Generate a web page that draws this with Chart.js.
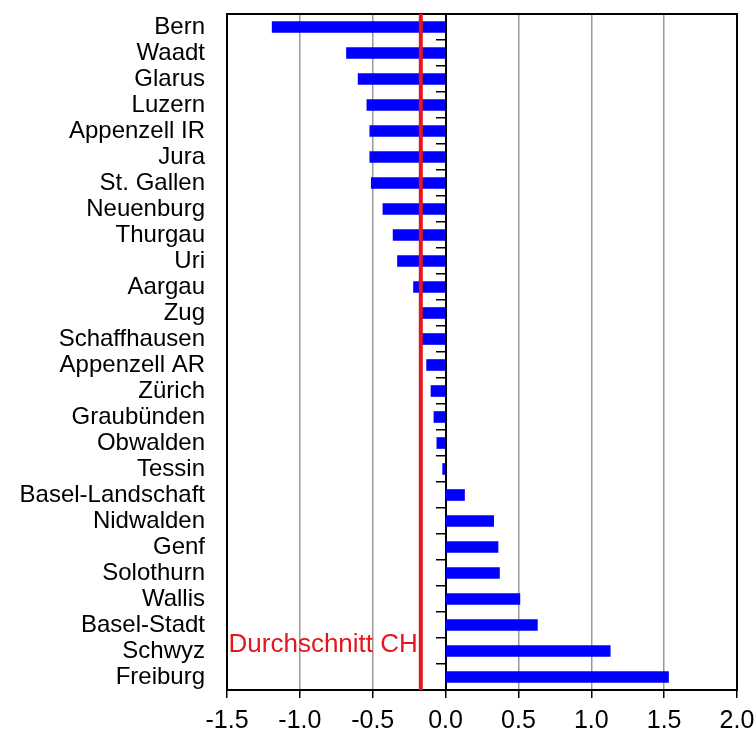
<!DOCTYPE html>
<html>
<head>
<meta charset="utf-8">
<script src="https://cdn.jsdelivr.net/npm/chart.js@4"></script>
<style>
  html, body { margin: 0; padding: 0; background: #fff; }
  #wrap { width: 756px; height: 731px; }
</style>
</head>
<body>
<div id="wrap"><canvas id="c" width="756" height="731"></canvas></div>
<script>
const cantons = ["Bern","Waadt","Glarus","Luzern","Appenzell IR","Jura","St. Gallen","Neuenburg","Thurgau","Uri","Aargau","Zug","Schaffhausen","Appenzell AR","Zürich","Graubünden","Obwalden","Tessin","Basel-Landschaft","Nidwalden","Genf","Solothurn","Wallis","Basel-Stadt","Schwyz","Freiburg"];
const values = [-1.19,-0.68,-0.60,-0.54,-0.52,-0.52,-0.51,-0.43,-0.36,-0.33,-0.22,-0.16,-0.16,-0.13,-0.10,-0.08,-0.06,-0.02,0.13,0.33,0.36,0.37,0.51,0.63,1.13,1.53];
const averageCH = -0.17;
const averageLabel = "Durchschnitt CH";
const xMin = -1.5, xMax = 2.0, xStep = 0.5;

const FONT = "'Liberation Sans', Arial, sans-serif";

const overlay = {
  id: 'overlay',
  afterDatasetsDraw(chart) {
    const {ctx, chartArea: a, scales: {x}} = chart;
    ctx.save();
    ctx.strokeStyle = '#000';
    ctx.lineWidth = 2;
    ctx.strokeRect(a.left, a.top, a.right - a.left, a.bottom - a.top);
    const px = x.getPixelForValue(averageCH);
    ctx.strokeStyle = '#e3171d';
    ctx.lineWidth = 4;
    ctx.beginPath();
    ctx.moveTo(px, a.top);
    ctx.lineTo(px, a.bottom);
    ctx.stroke();
    ctx.fillStyle = '#e3171d';
    ctx.font = '26px ' + FONT;
    ctx.textAlign = 'right';
    ctx.textBaseline = 'alphabetic';
    ctx.fillText(averageLabel, px - 3, a.bottom - 38);
    ctx.restore();
  }
};

function noPad(s) { s.paddingTop = 0; s.paddingBottom = 0; }

new Chart(document.getElementById('c'), {
  type: 'bar',
  data: {
    labels: cantons,
    datasets: [{
      data: values,
      backgroundColor: '#0000ff',
      borderWidth: 0,
      barThickness: 11,
      yAxisID: 'y'
    }]
  },
  options: {
    indexAxis: 'y',
    responsive: false,
    animation: false,
    devicePixelRatio: 1,
    layout: { padding: { top: 14, right: 0, bottom: 0, left: 0 } },
    plugins: { legend: { display: false }, tooltip: { enabled: false } },
    scales: {
      x: {
        type: 'linear',
        min: xMin, max: xMax,
        ticks: {
          stepSize: xStep,
          color: '#000',
          font: { family: FONT, size: 25 },
          padding: 8,
          callback: v => Number(v).toFixed(1)
        },
        grid: {
          color: '#9a9a9a',
          lineWidth: 1.5,
          tickColor: '#000',
          tickLength: 8,
          drawOnChartArea: true
        },
        border: { display: false },
        afterFit: s => { s.height = 41; s.paddingLeft = 0; s.paddingRight = 19; }
      },
      y: {
        type: 'category',
        offset: true,
        ticks: {
          autoSkip: false,
          color: '#000',
          font: { family: FONT, size: 24 },
          padding: 22
        },
        grid: { display: false, drawTicks: false },
        border: { display: false },
        afterFit: s => { s.width = 227; noPad(s); }
      },
      y2: {
        type: 'category',
        position: { x: 0 },
        offset: true,
        ticks: { display: false },
        grid: {
          offset: true,
          drawOnChartArea: false,
          tickLength: 9,
          color: '#000',
          lineWidth: 1.5
        },
        border: { display: true, color: '#000', width: 2 },
        afterFit: noPad
      }
    }
  },
  plugins: [overlay]
});
</script>
</body>
</html>
